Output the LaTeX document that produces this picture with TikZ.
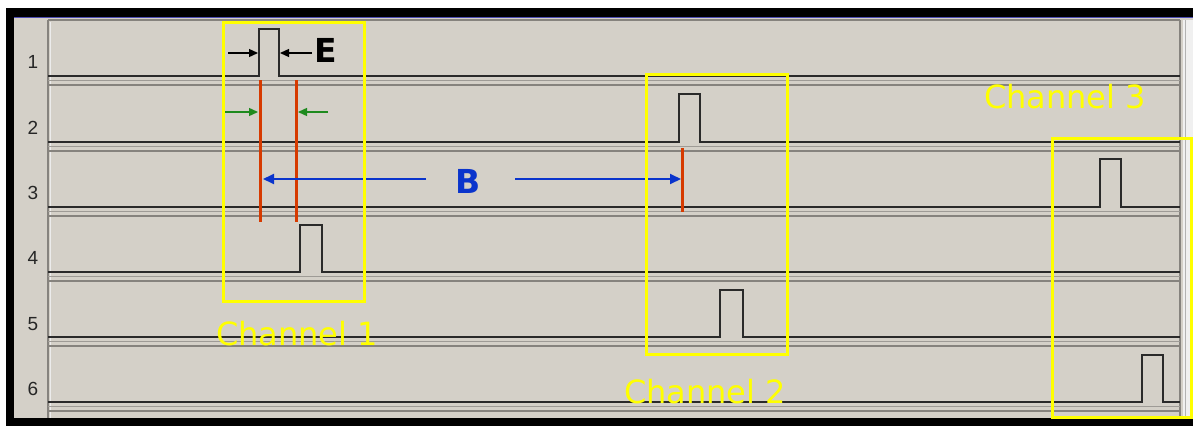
\documentclass[tikz,border=0pt]{standalone}
\usepackage{fontspec}
\setmainfont{DejaVu Sans}
\newfontfamily\rowfont{Liberation Sans}
\usetikzlibrary{arrows.meta}
\definecolor{panelbg}{HTML}{D4D0C8}
\definecolor{sigline}{HTML}{2A2A2A}
\definecolor{sepgrey}{HTML}{86837E}
\definecolor{sepgreyb}{HTML}{9E9B96}
\definecolor{chyellow}{HTML}{FFFF00}
\definecolor{markred}{HTML}{D63A00}
\definecolor{markgreen}{HTML}{1E8A1E}
\definecolor{markblue}{HTML}{0A34CC}
\tikzset{
  signal/.style={draw=sigline, line width=1.6pt, line join=miter},
  sepA/.style={draw=sepgreyb, line width=1.4pt},
  sepB/.style={draw=sepgrey, line width=2pt},
  chanbox/.style={draw=chyellow, line width=3pt},
  chanlabel/.style={text=chyellow, font=\fontsize{32}{36}\selectfont, inner sep=0pt},
  rowlabel/.style={font=\rowfont\fontsize{19}{21}\selectfont, text=black!85, inner sep=0pt},
  redmark/.style={draw=markred, line width=3pt},
  greenarrow/.style={draw=markgreen, line width=1.4pt, -{Triangle[length=9pt,width=8pt]}},
  blackarrow/.style={draw=black, line width=1.3pt, -{Triangle[length=9pt,width=8pt]}},
  bluearrow/.style={draw=markblue, line width=1.8pt, -{Triangle[length=11pt,width=10pt]}},
  bigletter/.style={font=\bfseries\fontsize{33}{36}\selectfont, inner sep=0pt},
}
\begin{document}
\begin{tikzpicture}[x=1pt,y=-1pt]
\useasboundingbox (0,0) rectangle (1193,426);
% outer frame
\fill[white] (0,0) rectangle (1193,426);
\fill[black] (6,8) rectangle (1193,426);
\fill[panelbg] (14,17) rectangle (1193,418);
\draw[draw=blue!40!gray, line width=1pt] (14,17.5) -- (1193,17.5);
% scrollbar strip
\fill[gray!12] (1183,20) rectangle (1193,418);
\draw[draw=gray!60, line width=1pt] (1185,20) -- (1185,418);
% panel borders
\draw[sepgrey, line width=1.5pt] (48,20) -- (1180,20);
\draw[sepgrey, line width=1.5pt] (48,20) -- (48,418);
\draw[white!85!gray, line width=1pt] (50,22) -- (50,418);
\draw[sepgrey, line width=1.5pt] (1180,20) -- (1180,418);
% separators under each baseline
\foreach \b in {76,142,207,272,337,402}{
  \draw[sepA] (48,\b+4.5) -- (1180,\b+4.5);
  \draw[sepB] (48,\b+8.5) -- (1180,\b+8.5);
}
% row labels
\node[rowlabel] (r1) at (33,62) {1};
\node[rowlabel] (r2) at (33,128) {2};
\node[rowlabel] (r3) at (33,193) {3};
\node[rowlabel] (r4) at (33,258) {4};
\node[rowlabel] (r5) at (33,324) {5};
\node[rowlabel] (r6) at (33,389) {6};
% signals with pulses
\draw[signal] (48,76) -- (259,76) -- (259,29) -- (279,29) -- (279,76) -- (1180,76);
\draw[signal] (48,142) -- (679,142) -- (679,94) -- (700,94) -- (700,142) -- (1180,142);
\draw[signal] (48,207) -- (1100,207) -- (1100,159) -- (1121,159) -- (1121,207) -- (1180,207);
\draw[signal] (48,272) -- (300,272) -- (300,225) -- (322,225) -- (322,272) -- (1180,272);
\draw[signal] (48,337) -- (720,337) -- (720,290) -- (743,290) -- (743,337) -- (1180,337);
\draw[signal] (48,402) -- (1142,402) -- (1142,355) -- (1163,355) -- (1163,402) -- (1180,402);
% red markers
\draw[redmark] (260,80) -- (260,222);
\draw[redmark] (296,80) -- (296,222);
\draw[redmark] (682,148) -- (682,212);
% E width arrows
\coordinate (eL0) at (228,53);
\coordinate (eL1) at (258,53);
\coordinate (eR0) at (312,53);
\coordinate (eR1) at (280,53);
\draw[blackarrow] (eL0) -- (eL1);
\draw[blackarrow] (eR0) -- (eR1);
\node[bigletter] (E) at (326,50) {E};
% green arrows
\coordinate (gL0) at (225,112);
\coordinate (gL1) at (258,112);
\coordinate (gR0) at (328,112);
\coordinate (gR1) at (298,112);
\draw[greenarrow] (gL0) -- (gL1);
\draw[greenarrow] (gR0) -- (gR1);
% B arrows
\node[bigletter, text=markblue] (B) at (468,181) {B};
\coordinate (bL0) at (426,179);
\coordinate (bL1) at (263,179);
\coordinate (bR0) at (515,179);
\coordinate (bR1) at (681,179);
\draw[bluearrow] (bL0) -- (bL1);
\draw[bluearrow] (bR0) -- (bR1);
% channel boxes
\draw[chanbox] (223,22) rectangle (364,301);
\draw[chanbox] (646,74) rectangle (787,354);
\draw[chanbox] (1052,138) rectangle (1191,417);
% channel labels
\node[chanlabel] (c1) at (297,334) {Channel 1};
\node[chanlabel] (c2) at (705,392) {Channel 2};
\node[chanlabel] (c3) at (1065,97) {Channel 3};
\end{tikzpicture}
\end{document}
